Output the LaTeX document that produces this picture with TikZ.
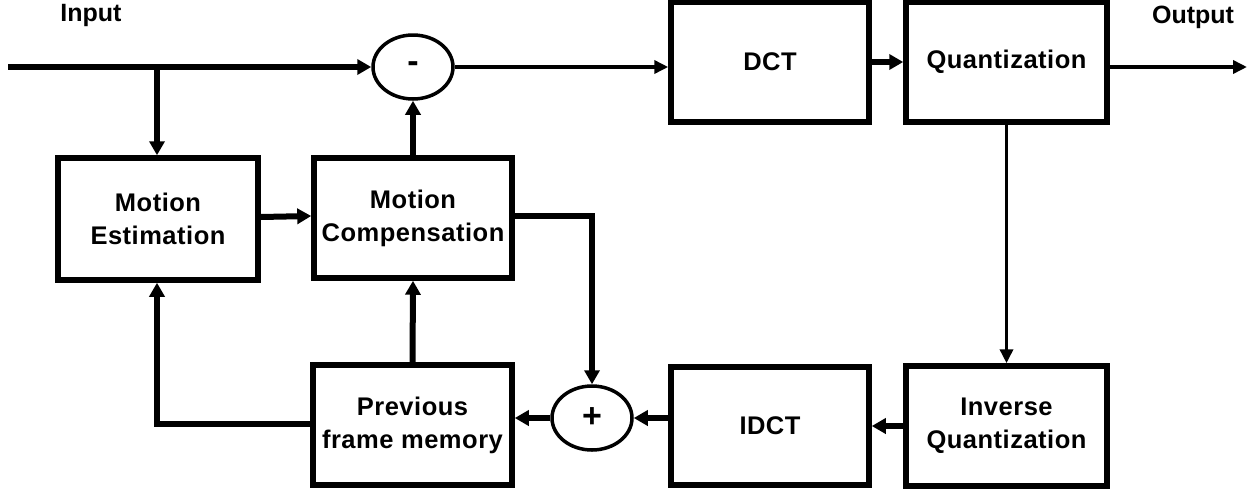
\documentclass[tikz,border=0pt]{standalone}
\usepackage{fontspec}
\setmainfont{Liberation Sans}
\usetikzlibrary{arrows.meta,shapes.geometric}
\begin{document}
\begin{tikzpicture}[x=1pt,y=-1pt,
  blk/.style={draw, line width=5.5pt, align=center, inner sep=0pt,
    font=\bfseries\fontsize{25.5}{33}\selectfont\addfontfeatures{LetterSpace=2}},
  sumnode/.style={draw, ellipse, line width=3.5pt, minimum width=80pt, minimum height=64pt, inner sep=0pt,
    font=\bfseries\fontsize{34}{36}\selectfont},
  lbl/.style={font=\bfseries\fontsize{25}{28}\selectfont, inner sep=0pt},
  thk/.style={line width=6pt, -{Triangle[length=14pt,width=15pt]}},
  thn/.style={line width=3.5pt, -{Triangle[length=14pt,width=13pt]}}
]
\useasboundingbox (0,0) rectangle (1249,493);
\fill[white] (0,0) rectangle (1249,493);

\node[blk, minimum width=198pt, minimum height=120pt] (dct) at (770,62) {DCT};
\node[blk, minimum width=201pt, minimum height=120pt] (quant) at (1006.5,62) {Quantization};
\node[blk, minimum width=201pt, minimum height=120pt] (invq) at (1006.5,426) {Inverse\\Quantization};
\node[blk, minimum width=198pt, minimum height=118pt] (idct) at (770,426) {IDCT};
\node[blk, minimum width=199pt, minimum height=120pt] (prev) at (412.5,425) {Previous\\frame memory};
\node[blk, minimum width=198pt, minimum height=120pt] (mc) at (413,218) {Motion\\Compensation};
\node[blk, minimum width=200pt, minimum height=122pt] (me) at (158,219) {Motion\\Estimation};

\node[sumnode] (minus) at (413,67) {-};
\node[sumnode] (plus) at (592,418) {+};

\node[lbl] (inlbl) at (91,15) {Input};
\node[lbl] (outlbl) at (1193,17) {Output};

\coordinate (in) at (8,67);
\coordinate (j1) at (157,67);
\coordinate (out) at (1247,67);

\draw[thk] (in) -- (minus.west);
\draw[thk] (j1) -- (me.north -| j1);
\draw[thk] (mc.north) -- (minus.south);
\draw[thn] (minus.east) -- (dct.west |- minus.east);
\draw[thk] (dct.east) -- (quant.west);
\draw[thn] (quant.east |- out) -- (out);
\draw[thn] (quant.south) -- (invq.north);
\draw[thk] (invq.west) -- (idct.east);
\draw[thk] (plus.east -| idct.west) -- (plus.east);
\draw[thk] (plus.west) -- (plus.west -| prev.east);
\draw[thk] (prev.north) -- (mc.south);
\draw[thk] ([yshift=2pt]mc.east) -| (plus.north);
\draw[thk] ([yshift=1pt]prev.west) -| (me.south -| j1);
\draw[thk] ([yshift=2pt]me.east) -- ([yshift=2pt]mc.west);
\end{tikzpicture}
\end{document}
